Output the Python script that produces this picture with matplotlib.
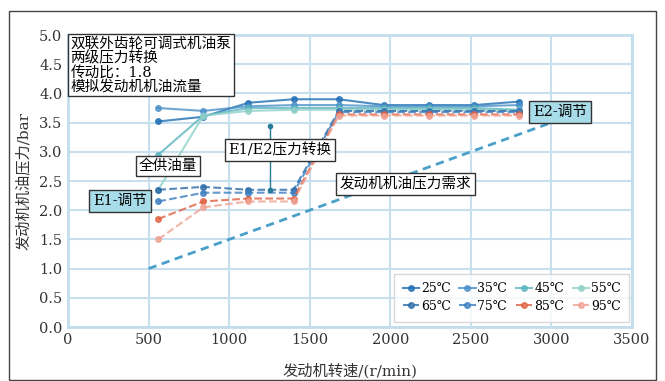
import matplotlib
matplotlib.use("Agg")
import matplotlib.pyplot as plt
from matplotlib.patches import Rectangle

plt.rcParams['font.family'] = ['DejaVu Serif', 'Noto Sans CJK SC']

# engine speed (r/min) and oil pressure (bar) per oil temperature
speed = [560, 840, 1120, 1400, 1680, 1960, 2240, 2520, 2800]
temps = ['25℃', '35℃', '45℃', '55℃', '65℃', '75℃', '85℃', '95℃']
p25 = [3.52, 3.60, 3.84, 3.90, 3.90, 3.80, 3.80, 3.80, 3.86]
p35 = [3.75, 3.70, 3.78, 3.80, 3.80, 3.78, 3.78, 3.78, 3.80]
p45 = [2.95, 3.62, 3.75, 3.75, 3.75, 3.75, 3.75, 3.75, 3.72]
p55 = [2.35, 3.62, 3.70, 3.72, 3.72, 3.72, 3.72, 3.72, 3.70]
p65 = [2.35, 2.40, 2.35, 2.35, 3.70, 3.70, 3.70, 3.70, 3.70]
p75 = [2.15, 2.30, 2.30, 2.30, 3.68, 3.68, 3.68, 3.68, 3.68]
p85 = [1.85, 2.15, 2.20, 2.20, 3.64, 3.64, 3.64, 3.64, 3.64]
p95 = [1.50, 2.05, 2.15, 2.15, 3.62, 3.62, 3.62, 3.62, 3.62]
series = [p25, p35, p45, p55, p65, p75, p85, p95]

# engine oil pressure demand
demand_x = [500, 3000]
demand_y = [1.0, 3.5]

colors = ['#1f6fb4', '#4a90c8', '#5bb5c0', '#8fd0c8',
          '#2a6aa8', '#3b7fc0', '#e06040', '#f0a090']
styles = ['-', '-', '-', '-', '--', '--', '--', '--']

fig = plt.figure(figsize=(6.65, 3.81), dpi=100)
ax = fig.add_axes([0.1023, 0.1417, 0.848, 0.7664])

handles = []
for p, t, c, ls in zip(series, temps, colors, styles):
    h, = ax.plot(speed, p, ls, color=c, marker='o', ms=4, lw=1.5, alpha=0.8, label=t)
    handles.append(h)

ax.plot(demand_x, demand_y, '--', color='#4aa0c8', lw=2, dashes=(3, 2))

# E1/E2 switching marker
ax.plot([1254, 1254], [2.35, 3.45], color='#2a7a9a', lw=1, marker='o', ms=3)

ax.set_xlim(0, 3500)
ax.set_ylim(0, 5.0)
ax.set_xticks(range(0, 3501, 500))
ax.set_yticks([i * 0.5 for i in range(11)])
ax.set_yticklabels(['%.1f' % (i * 0.5) for i in range(11)])
ax.tick_params(length=0, labelsize=10.5, colors='#333333', pad=4)
ax.grid(True, color='#c8e0ee', lw=1.5)
ax.set_axisbelow(True)
for s in ax.spines.values():
    s.set_color('#c2deee')
    s.set_linewidth(2)

ax.set_xlabel('发动机转速/(r/min)', fontsize=11, color='#333333', labelpad=12)
ax.set_ylabel('发动机机油压力/bar', fontsize=11, color='#333333', labelpad=6)

box = dict(boxstyle='square,pad=0.2', fc='white', ec='#333333', lw=1)
wide_box = dict(boxstyle='square,pad=0.25', fc='white', ec='#333333', lw=1)
blue_box = dict(boxstyle='square,pad=0.25', fc='#a8dce8', ec='#333333', lw=1)

ax.text(15, 4.97, '双联外齿轮可调式机油泵\n两级压力转换\n传动比：1.8\n模拟发动机机油流量',
        fontsize=10.5, va='top', ha='left', linespacing=1.0, bbox=box)
ax.text(620, 2.76, '全供油量', fontsize=10.5, ha='center', va='center', bbox=box)
ax.text(1316, 3.03, 'E1/E2压力转换', fontsize=10.5, ha='center', va='center', bbox=wide_box)
ax.text(2092, 2.45, '发动机机油压力需求', fontsize=10.5, ha='center', va='center', bbox=wide_box)
ax.text(323, 2.16, 'E1-调节', fontsize=10.5, ha='center', va='center', bbox=blue_box)
ax.text(3054, 3.68, 'E2-调节', fontsize=10.5, ha='center', va='center', bbox=blue_box)

# legend filled row by row: 25-55 on top, 65-95 below
order = [0, 4, 1, 5, 2, 6, 3, 7]
leg = ax.legend([handles[i] for i in order], [temps[i] for i in order],
                ncol=4, loc='lower right', fontsize=9, frameon=True,
                handlelength=1.3, handletextpad=0.15, columnspacing=0.7,
                borderpad=0.4, labelspacing=0.35, bbox_to_anchor=(1.0, 0.01))
leg.get_frame().set_edgecolor('#d0d0d0')
leg.get_frame().set_linewidth(1)
leg.get_frame().set_boxstyle('square')

# outer frame around the whole figure
fig.patches.append(Rectangle((9 / 665, 0.003), 647 / 665, 1 - 11 / 381 - 0.003,
                             transform=fig.transFigure, fill=False,
                             ec='#444444', lw=1))

fig.savefig('out.png', dpi=100)
